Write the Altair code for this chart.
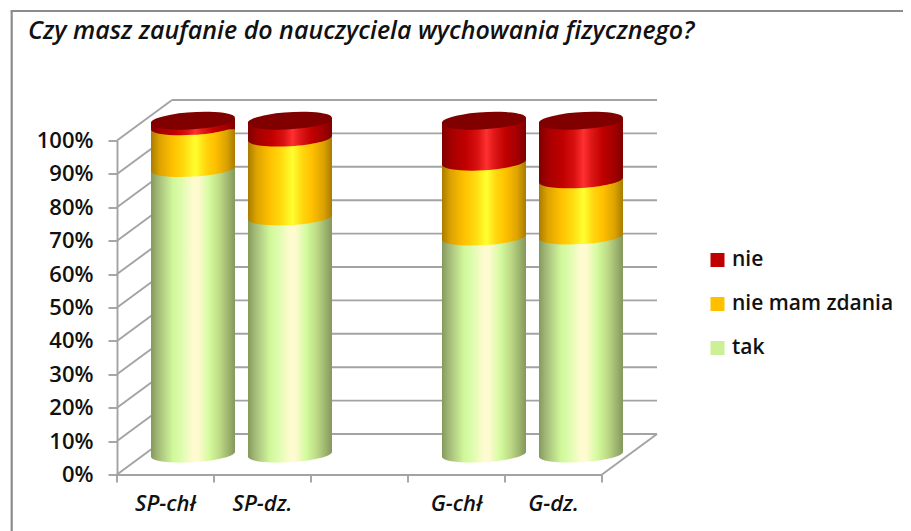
import altair as alt
import pandas as pd

TITLE = "Czy masz zaufanie do nauczyciela wychowania fizycznego?"
CATEGORIES = ["SP-chł", "SP-dz.", " ", "G-chł", "G-dz."]
BARS = ["SP-chł", "SP-dz.", "G-chł", "G-dz."]
TAK = [85.5, 71.0, 65.0, 65.3]
NIE_MAM = [12.5, 23.6, 22.4, 16.8]
NIE = [2.0, 5.4, 12.6, 17.9]
PCT_TICKS = [0, 10, 20, 30, 40, 50, 60, 70, 80, 90, 100]
SERIES = ["nie", "nie mam zdania", "tak"]
LEGEND_COLORS = ["#c00000", "#ffc000", "#ccf095"]

FONT = "Open Sans"
GREY = "#a3a3a3"
LW = 1.9
W, H = 485, 334
DX, DY = 55, -40.5
CX, CY = 27.5, -19.75
TILT = 2.5
BAR_W = 84


def grad(stops):
    return {"gradient": "linear", "x1": 0, "x2": 1, "y1": 0, "y2": 0,
            "stops": [{"offset": o, "color": c} for o, c in stops]}


G_TAK = grad([(0, "#84995c"), (.08, "#a2b877"), (.26, "#d0f79a"), (.36, "#ddfcac"), (.5, "#fffbd0"),
              (.56, "#fffbd0"), (.7, "#d2fa9c"), (.82, "#bdd985"), (1, "#84985c")])
G_MAM = grad([(0, "#a87c00"), (.1, "#dca200"), (.26, "#ffc000"), (.4, "#ffdc10"), (.53, "#ffff30"),
              (.64, "#ffd810"), (.76, "#ffc000"), (.9, "#dca200"), (1, "#a87c00")])
G_NIE = grad([(0, "#800000"), (.12, "#a80000"), (.28, "#c00000"), (.42, "#d81010"), (.53, "#ff3030"),
              (.62, "#e01818"), (.76, "#c00000"), (.9, "#a00000"), (1, "#800000")])

ELLIPSE = "M-.998,.059 A1.002,.19 -3.4 1 1 .998,-.059 A1.002,.19 -3.4 1 1 -.998,.059 Z"
CAP = "M-1,-.12 L1,-.12 L1,-.059 L.998,-.059 A1.002,.19 -3.4 0 1 -.998,.059 L-1,.059 Z"
TOP = "M-1,.06 L1,-.06 L1,.2 L-1,.2 Z"

rows = []
for i, c in enumerate(BARS):
    a, b, d = TAK[i], NIE_MAM[i], NIE[i]
    rows.append({"cat": c, "series": "tak", "low": 0, "high": a})
    rows.append({"cat": c, "series": "nie mam zdania", "low": a, "high": a + b})
    rows.append({"cat": c, "series": "nie", "low": a + b, "high": a + b + d})
df = pd.DataFrame(rows)
ticks_df = pd.DataFrame({"p": PCT_TICKS})
floor_df = pd.DataFrame({"p": [0]})

yscale = alt.Scale(domain=[0, 100], range=[H, 0], nice=False)
xscale = alt.Scale(domain=CATEGORIES, range=[0, W], paddingInner=0, paddingOuter=0)
AX_X = alt.Axis(ticks=False, title=None, labelAngle=0, domainColor=GREY, domainWidth=LW, labelFont=FONT,
                labelFontSize=22, labelFontStyle="italic", labelFontWeight=600, labelColor="#111",
                labelPadding=19, labelBaseline="top")
AX_Y = alt.Axis(values=PCT_TICKS, title=None, labelExpr="datum.value + '%'", grid=False, tickSize=9, tickColor=GREY,
                tickWidth=LW, domainColor=GREY, domainWidth=LW, labelFont=FONT, labelFontSize=22,
                labelFontWeight=600, labelColor="#111", labelPadding=15)
X = alt.X("cat:N", scale=xscale, axis=AX_X, sort=CATEGORIES)
YP = alt.Y("p:Q", scale=yscale, axis=AX_Y)
Y_HIGH = alt.Y("high:Q", scale=yscale, axis=AX_Y)
Y_LOW = alt.Y("low:Q", scale=yscale, axis=AX_Y)

layers = []

layers.append(alt.Chart(pd.DataFrame({"cat": CATEGORIES, "p": [0] * 5})).mark_point(opacity=0).encode(x=X, y=YP))

layers.append(alt.Chart(ticks_df).mark_rule(color=GREY, strokeWidth=LW, y2Offset=DY).encode(
    x=alt.value(0), x2=alt.value(DX), y=YP, y2="p:Q"))
layers.append(alt.Chart(ticks_df).mark_rule(color=GREY, strokeWidth=LW, yOffset=DY).encode(
    x=alt.value(DX), x2=alt.value(W + DX), y=YP))
layers.append(alt.Chart(floor_df).mark_rule(color=GREY, strokeWidth=LW, y2Offset=DY).encode(
    x=alt.value(W), x2=alt.value(W + DX), y=YP, y2="p:Q"))

# Category ticks below the floor
tick_rows = pd.DataFrame({"cat": CATEGORIES})
layers.append(alt.Chart(tick_rows).mark_rule(color=GREY, strokeWidth=LW).encode(
    x=alt.X("cat:N", scale=xscale, axis=AX_X, sort=CATEGORIES, bandPosition=0), y=alt.value(H), y2=alt.value(H + 8)))
layers.append(alt.Chart(tick_rows.tail(1)).mark_rule(color=GREY, strokeWidth=LW).encode(
    x=alt.X("cat:N", scale=xscale, axis=AX_X, sort=CATEGORIES, bandPosition=1), y=alt.value(H), y2=alt.value(H + 8)))

# Outer frame of the picture
layers.append(alt.Chart(floor_df).mark_rule(color="#8c8c8c", strokeWidth=2.2).encode(
    x=alt.value(-105.3), y=alt.value(-129.5), y2=alt.value(400)))
layers.append(alt.Chart(floor_df).mark_rule(color="#8c8c8c", strokeWidth=2.2).encode(
    x=alt.value(-106.4), x2=alt.value(800), y=alt.value(-129.5)))

# Title as text
layers.append(alt.Chart(pd.DataFrame({"t": [TITLE]})).mark_text(
    align="left", baseline="alphabetic", font=FONT, fontSize=25, fontStyle="italic", fontWeight=600, color="#111"
).encode(x=alt.value(-89), y=alt.value(-102), text="t:N"))

# Flat-coloured bodies that carry the legend; the shaded ones lie on top of them
layers.append(alt.Chart(df).mark_bar(size=BAR_W - 2, xOffset=CX, yOffset=CY + TILT, y2Offset=CY - TILT).encode(
    x=X, y=Y_HIGH, y2="low:Q",
    color=alt.Color("series:N", scale=alt.Scale(domain=SERIES, range=LEGEND_COLORS), title=None,
                    legend=alt.Legend(orient="none", legendX=590, legendY=109, symbolType="square", symbolSize=196,
                                      symbolStrokeWidth=0, symbolOpacity=1, labelFont=FONT, labelFontSize=21,
                                      labelFontWeight=600, labelColor="#111", rowPadding=22, labelOffset=4,
                                      labelLimit=300,
                                      labelExpr="datum.label == 'nie' ? '\u00a0nie' : datum.label")),
))

for name, g in [("tak", G_TAK), ("nie mam zdania", G_MAM), ("nie", G_NIE)]:
    d = df[df.series == name]
    layers.append(alt.Chart(d).mark_point(shape=CAP, size=BAR_W ** 2, filled=True, fill=g, opacity=1, strokeWidth=0,
                                          xOffset=CX, yOffset=CY).encode(x=X, y=Y_LOW))
    top_off = CY + TILT if name == "nie" else CY - TILT
    layers.append(alt.Chart(d).mark_bar(size=BAR_W, fill=g, xOffset=CX, yOffset=top_off, y2Offset=CY - TILT).encode(
        x=X, y=Y_HIGH, y2="low:Q"))
    if name == "nie":
        layers.append(alt.Chart(d).mark_point(shape=TOP, size=BAR_W ** 2, filled=True, fill=g, opacity=1,
                                              strokeWidth=0, xOffset=CX, yOffset=CY).encode(x=X, y=Y_HIGH))
        layers.append(alt.Chart(d).mark_point(shape=ELLIPSE, size=BAR_W ** 2, filled=True, fill="#800000", opacity=1,
                                              strokeWidth=0, xOffset=CX, yOffset=CY).encode(x=X, y=Y_HIGH))

chart = alt.layer(*layers).properties(
    width=W, height=H, autosize=alt.AutoSizeParams(type="none"),
    padding={"left": 109, "top": 132.5, "right": 301, "bottom": 56.5},
).configure_view(strokeWidth=0)

chart.save("out.html", embed_options={"renderer": "svg", "actions": False})
